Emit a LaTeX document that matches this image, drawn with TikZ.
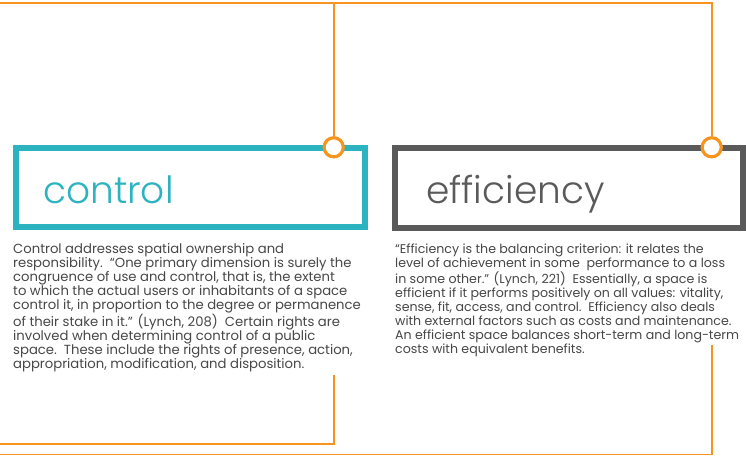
\documentclass[tikz,border=0pt]{standalone}
\usepackage{fontspec}
\setmainfont{Poppins}
\newfontfamily\lightfont{Poppins Light}
\definecolor{orng}{HTML}{F7941D}
\definecolor{teal2}{HTML}{2CB3C0}
\definecolor{dgray}{HTML}{5A5A5A}
\definecolor{txtgray}{HTML}{474747}
\begin{document}
\begin{tikzpicture}[x=1pt,y=-1pt,
  conn/.style={draw=orng,line width=1.8pt},
  dot/.style={circle,draw=orng,fill=white,line width=3pt,minimum size=19pt,inner sep=0pt},
  ctrlbox/.style={draw=teal2,line width=6pt,minimum width=349pt,minimum height=79pt,inner sep=0pt},
  effbox/.style={draw=dgray,line width=6pt,minimum width=348pt,minimum height=80pt,inner sep=0pt},
  title/.style={anchor=base west,inner sep=0pt,font=\lightfont\fontsize{37.5}{40}\selectfont},
  body/.style={anchor=north west,inner sep=0pt,align=left,text=txtgray}]
\useasboundingbox (0,0) rectangle (746,457);
\fill[white] (0,0) rectangle (746,457);
% boxes
\node[ctrlbox] (cbox) at (190.5,187.5) {};
\node[effbox] (ebox) at (569.4,188) {};
% top connectors
\coordinate (topL) at (0,3);
\coordinate (topJ) at (333.7,3);
\node[dot] (dot1) at (333.7,147.3) {};
\node[dot] (dot2) at (711.7,147.3) {};
\draw[conn] (topL) -| (dot2.north);
\draw[conn] (topJ) -- (dot1.north);
\node[dot] at (dot1) {};
\node[dot] at (dot2) {};
% titles
\node[title,text=teal2] (ct) at (43,203) {control};
\node[title,text=dgray] (et) at (426,203) {efficiency};
% paragraphs
\node[body,font=\fontsize{13.2}{14.1}\selectfont] (cp) at (13,243) {Control addresses spatial ownership and\\
responsibility.\ \ “One primary dimension is surely the\\
congruence of use and control, that is, the extent\\
to which the actual users or inhabitants of a space\\
control it, in proportion to the degree or permanence\\
of their stake in it.” (Lynch, 208)\ \ Certain rights are\\
involved when determining control of a public\\
space.\ \ These include the rights of presence, action,\\
appropriation, modification, and disposition.};
\node[body,font=\fontsize{12.6}{14.1}\selectfont] (ep) at (395,243.5) {“Efficiency is the balancing criterion: it relates the\\
level of achievement in some\ \ performance to a loss\\
in some other.” (Lynch, 221)\ \ Essentially, a space is\\
efficient if it performs positively on all values: vitality,\\
sense, fit, access, and control.\ \ Efficiency also deals\\
with external factors such as costs and maintenance.\\
An efficient space balances short-term and long-term\\
costs with equivalent benefits.};
% bottom brackets
\coordinate (b1s) at (333.7,375);
\coordinate (b1e) at (0,444);
\coordinate (b2s) at (711.7,345);
\coordinate (b2e) at (0,454.5);
\draw[conn] (b1s) |- (b1e);
\draw[conn] (b2s) |- (b2e);
\end{tikzpicture}
\end{document}
